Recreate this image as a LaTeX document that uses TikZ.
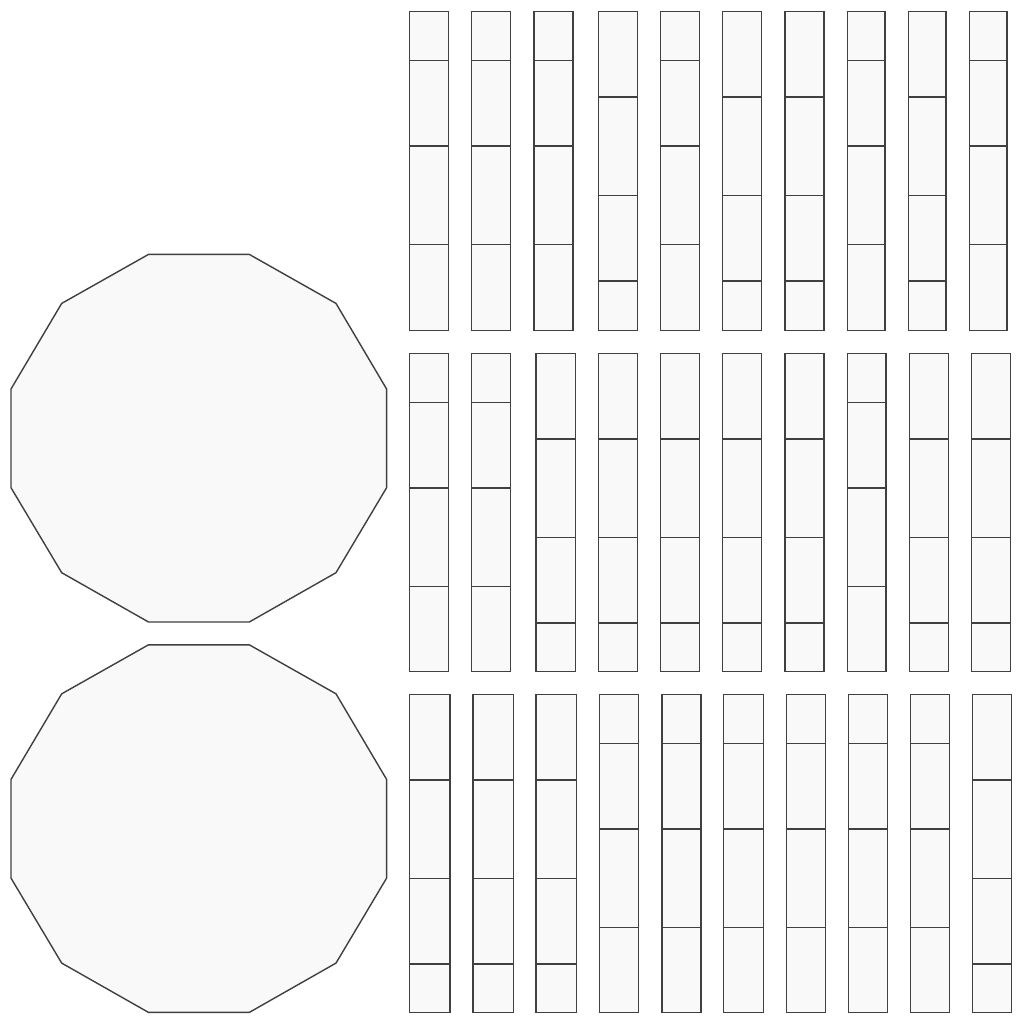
\documentclass[tikz,border=0pt]{standalone}
\usetikzlibrary{positioning}

\definecolor{piecefill}{HTML}{F9F9F9}
\definecolor{pieceline}{HTML}{404040}
\tikzset{
  piece/.style={draw=pieceline, fill=piecefill, line width=0.4pt},
  cut/.style={draw=pieceline, line width=0.4pt}
}

\begin{document}
\begin{tikzpicture}[x=0.01cm, y=-0.01cm]
    \useasboundingbox (0,0) rectangle (1024,1024);

    % the two dodecagons
    \foreach \yo in {0,390.4} {
        \draw[piece] (148.5,254.4+\yo) -- (249.3,254.4+\yo) -- (336,303.4+\yo) -- (386.6,389+\yo)
            -- (386.6,487.7+\yo) -- (336,572.7+\yo) -- (249.3,622+\yo) -- (148.5,622+\yo)
            -- (61.7,572.7+\yo) -- (11,487.7+\yo) -- (11,389+\yo) -- (61.7,303.4+\yo) -- cycle;
    }

    % strips, 0 = short piece on top, 1 = short piece at the bottom
    \foreach \xl/\xr/\p in {409.3/448.7/0, 471.7/510.7/0, 534/573/0, 598.7/637.7/1, 660.7/699.7/0,
                            722.7/761.7/1, 785/824/1, 847.3/885/0, 908.3/946/1, 969.3/1007/0} {
        \ifnum\p=0 \def\cuts{49,134.5,233}\else\def\cuts{85.5,184,269.5}\fi
        \draw[piece] (\xl,11.7) rectangle (\xr,330.3);
        \foreach \c in \cuts \draw[cut] (\xl,11.7+\c) -- (\xr,11.7+\c);
    }
    \foreach \xl/\xr/\p in {409.3/448.7/0, 471.7/510.7/0, 536/575.3/1, 598.7/637.7/1, 660.7/699.7/1,
                            722.7/761.7/1, 785/824/1, 847.3/886/0, 909.3/948.3/1, 971.7/1010.3/1} {
        \ifnum\p=0 \def\cuts{49,134.5,233}\else\def\cuts{85.5,184,269.5}\fi
        \draw[piece] (\xl,353.3) rectangle (\xr,671.7);
        \foreach \c in \cuts \draw[cut] (\xl,353.3+\c) -- (\xr,353.3+\c);
    }
    \foreach \xl/\xr/\p in {409.3/450/1, 473/513.3/1, 536/576.7/1, 599.3/638.7/0, 662/701/0,
                            723.7/763.3/0, 786.3/825.3/0, 848.3/887.7/0, 910.3/949.3/0, 972.7/1011.7/1} {
        \ifnum\p=0 \def\cuts{49,134.5,233}\else\def\cuts{85.5,184,269.5}\fi
        \draw[piece] (\xl,694.3) rectangle (\xr,1012.7);
        \foreach \c in \cuts \draw[cut] (\xl,694.3+\c) -- (\xr,694.3+\c);
    }
\end{tikzpicture}
\end{document}
